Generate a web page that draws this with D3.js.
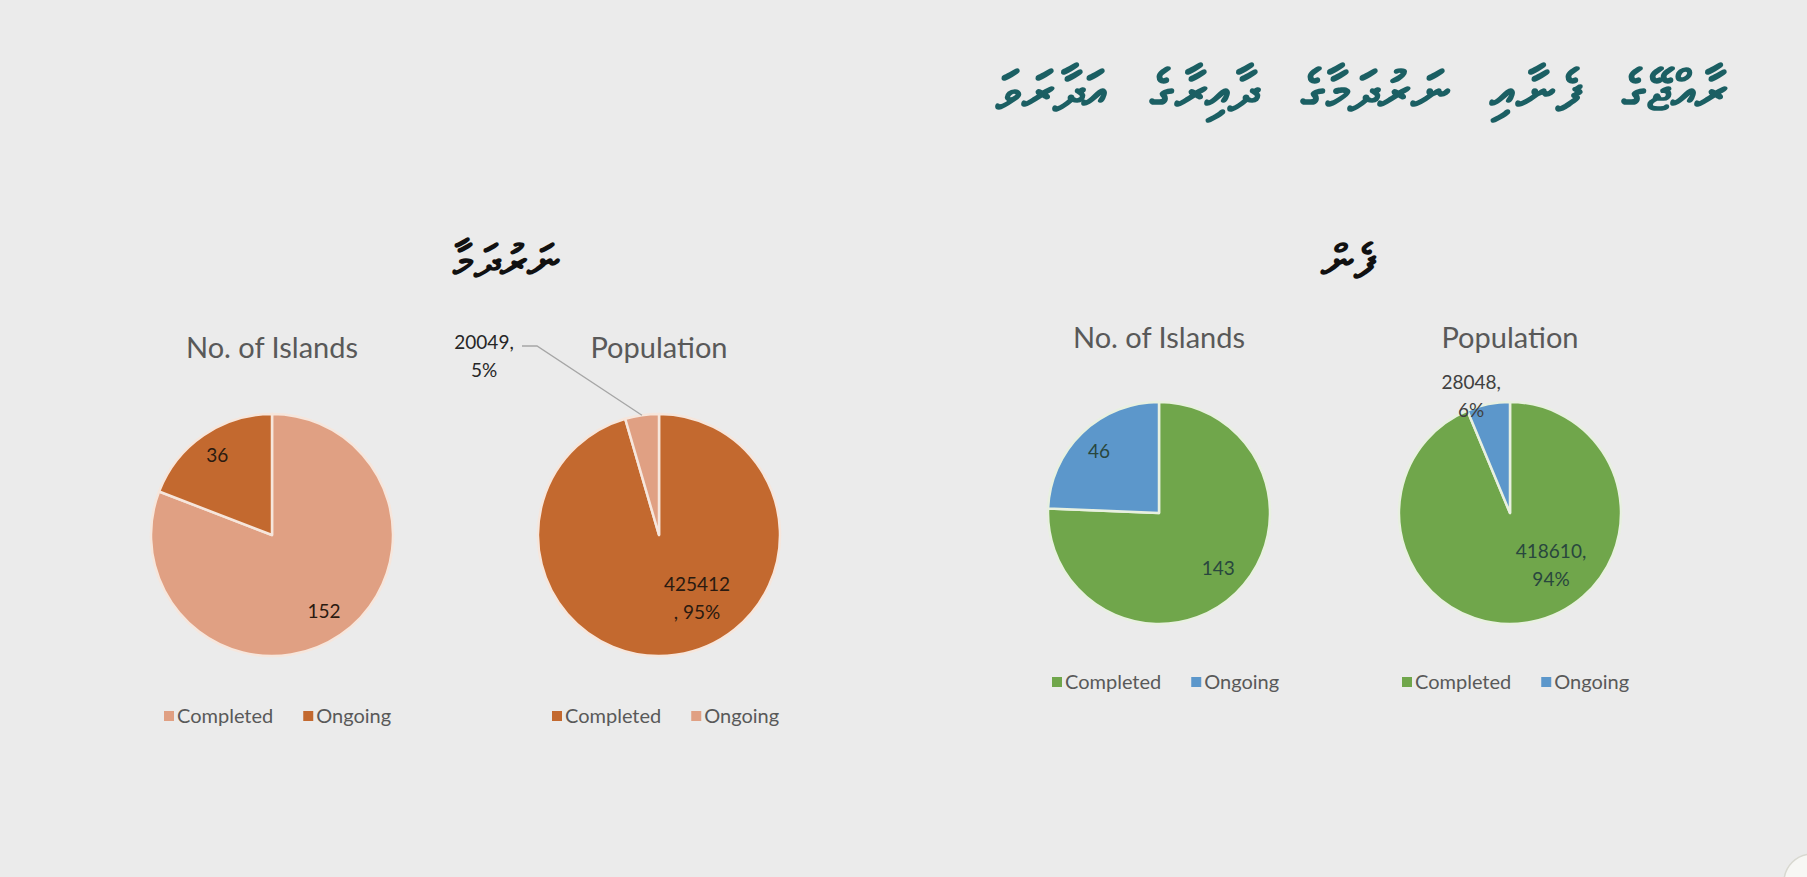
<!DOCTYPE html>
<html>
<head>
<meta charset="utf-8">
<script src="https://cdn.jsdelivr.net/npm/d3@7"></script>
<style>
  html, body { margin: 0; padding: 0; background: #ebebeb; }
  svg { display: block; }
</style>
</head>
<body>
<svg id="chart" width="1807" height="877"></svg>
<script>
// data
const categories = ["Completed", "Ongoing"];
const sewerIslands = [152, 36];
const sewerPopulation = [425412, 20049];
const waterIslands = [143, 46];
const waterPopulation = [418610, 28048];

const titleText = "ރާއްޖޭގެ ފެނާއި ނަރުދަމާގެ ދާއިރާގެ އަދާރަވަ";
const sewerTitle = "ނަރުދަމާ";
const waterTitle = "ފެން";
const chartTitles = ["No. of Islands", "Population"];

var svg = d3.select("#chart");
var font = "Lato, 'Open Sans', sans-serif";

svg.append("rect").attr("width", 1807).attr("height", 877).attr("fill", "#ebebeb");

// heading, sized to span the same width as on the slide
var title = svg.append("text")
   .attr("x", 1362).attr("y", 110)
   .attr("text-anchor", "middle")
   .attr("direction", "rtl")
   .attr("font-size", 56)
   .attr("font-weight", "bold")
   .attr("word-spacing", 28)
   .attr("fill", "#1b5f63")
   .text(titleText);
var tl = title.node().getComputedTextLength();
if (tl > 0) title.attr("font-size", 56 * 725 / tl);

svg.append("text").attr("x", 505).attr("y", 277)
   .attr("text-anchor", "middle").attr("direction", "rtl")
   .attr("font-size", 46).attr("font-weight", "bold")
   .attr("fill", "#111").text(sewerTitle);
svg.append("text").attr("x", 1348).attr("y", 277)
   .attr("text-anchor", "middle").attr("direction", "rtl")
   .attr("font-size", 46).attr("font-weight", "bold")
   .attr("fill", "#111").text(waterTitle);

// one entry per pie: layout only
var charts = [
  {values: sewerIslands, title: chartTitles[0], cx: 272, cy: 535, r: 121, ty: 358, ly: 716,
   colors: ["#e0a083", "#c3692f"], text: "#2a1a10", stroke: "#f6e6dc", pct: false,
   labels: [{rf: 0.76}, {rf: 0.8}], legendX: 164},
  {values: sewerPopulation, title: chartTitles[1], cx: 659, cy: 535, r: 121, ty: 358, ly: 716,
   colors: ["#c3692f", "#e0a083"], text: "#2a1a10", stroke: "#f6e6dc", pct: true,
   labels: [{rf: 0.61, angle: 149}, {outside: true, dx: -175, dy: -179}], legendX: 552},
  {values: waterIslands, title: chartTitles[0], cx: 1159, cy: 513, r: 111, ty: 348, ly: 682,
   colors: ["#70a64b", "#5c97cb"], text: "#29473e", stroke: "#e8f0e0", pct: false,
   labels: [{rf: 0.73, angle: 133}, {rf: 0.78}], legendX: 1052},
  {values: waterPopulation, title: chartTitles[1], cx: 1510, cy: 513, r: 111, ty: 348, ly: 682,
   colors: ["#70a64b", "#5c97cb"], text: "#29473e", stroke: "#e8f0e0", pct: true,
   labels: [{rf: 0.6, angle: 142}, {rf: 1.11, angle: 341.6, plain: true}], legendX: 1402}
];

var pie = d3.pie().sort(null);

charts.forEach(function(c) {
    var g = svg.append("g").attr("transform", "translate(" + c.cx + "," + c.cy + ")");
    var arcs = pie(c.values);
    var arc = d3.arc().innerRadius(0).outerRadius(c.r);
    var total = d3.sum(c.values);

    g.selectAll("path")
     .data(arcs)
     .enter().append("path")
     .attr("d", arc)
     .attr("fill", (d, i) => c.colors[i])
     .attr("stroke", c.stroke)
     .attr("stroke-width", 2.5)
     .attr("stroke-linejoin", "round");

    svg.append("text")
       .attr("x", c.cx).attr("y", c.ty)
       .attr("text-anchor", "middle")
       .attr("font-family", font).attr("font-size", 29)
       .attr("fill", "#595959")
       .text(c.title);

    arcs.forEach(function(d, i) {
        var spec = c.labels[i];
        var mid = (d.startAngle + d.endAngle) / 2;
        var pct = Math.round(d.data / total * 100) + "%";
        var lines = c.pct ? [d.data + ",", pct] : [String(d.data)];
        // the sewerage population label wraps before the comma
        if (c.pct && i == 0 && c.cx < 900) lines = [String(d.data), ", " + pct];
        var x, y, col = c.text;
        if (spec.outside) {
            x = spec.dx; y = spec.dy;
            col = "#262626";
            var ex = Math.sin(mid) * c.r, ey = -Math.cos(mid) * c.r;
            g.append("polyline")
             .attr("points", [[x + 38, y - 10], [x + 53, y - 10], [ex, ey]].map(p => p.join(",")).join(" "))
             .attr("fill", "none").attr("stroke", "#a6a6a6").attr("stroke-width", 1.3);
        } else {
            var a = spec.angle != null ? spec.angle * Math.PI / 180 : mid;
            x = Math.sin(a) * c.r * spec.rf;
            y = -Math.cos(a) * c.r * spec.rf;
            if (spec.plain) col = "#404040";
        }
        var t = g.append("text")
                 .attr("text-anchor", "middle")
                 .attr("font-family", font).attr("font-size", 19)
                 .attr("fill", col);
        var y0 = y - (lines.length - 1) * 14;
        lines.forEach(function(s, k) {
            t.append("tspan").attr("x", x).attr("y", y0 + k * 28 + 7).text(s);
        });
    });

    // legend
    var lg = svg.append("g").attr("transform", "translate(" + c.legendX + "," + c.ly + ")");
    var lx = 0;
    categories.forEach(function(name, i) {
        lg.append("rect").attr("x", lx).attr("y", -5).attr("width", 10).attr("height", 10)
          .attr("fill", c.colors[i]);
        var tt = lg.append("text").attr("x", lx + 13).attr("y", 7)
          .attr("font-family", font).attr("font-size", 20)
          .attr("fill", "#595959").text(name);
        lx += 13 + tt.node().getComputedTextLength() + 30;
    });
});

// corner emblem
svg.append("circle").attr("cx", 1812).attr("cy", 882).attr("r", 28)
   .attr("fill", "#f7f7f4").attr("stroke", "#d8d8d0").attr("stroke-width", 1.5);
</script>
</body>
</html>
